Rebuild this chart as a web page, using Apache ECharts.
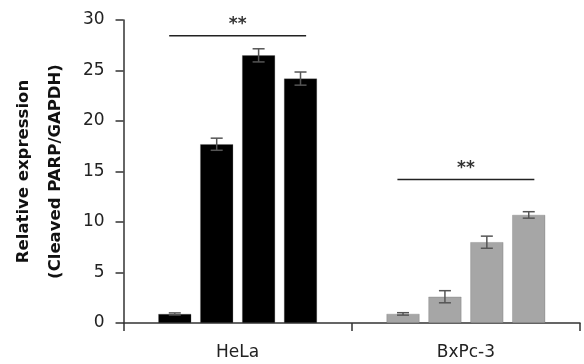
<!DOCTYPE html>
<html>
<head>
<meta charset="utf-8">
<script src="https://cdn.jsdelivr.net/npm/echarts@6/dist/echarts.min.js"></script>
<style>html,body{margin:0;padding:0;background:#fff}#c{width:584px;height:364px}</style>
</head>
<body>
<div id="c"></div>
<script>
const categories = ['HeLa', 'BxPc-3'];
const bar1 = [0.9, 0.9];
const bar2 = [17.7, 2.6];
const bar3 = [26.5, 8.0];
const bar4 = [24.2, 10.7];
const err1 = [0.1, 0.12];
const err2 = [0.6, 0.6];
const err3 = [0.65, 0.6];
const err4 = [0.65, 0.32];
const sigLineY = [28.45, 14.2];
const sigLabels = ['**', '**'];
const yTicks = [0, 5, 10, 15, 20, 25, 30];

const groupColors = ['#000000', '#a6a6a6'];
const BAR_W = 33, BAR_GAP = 0.27;
const means = [bar1, bar2, bar3, bar4];
const errs = [err1, err2, err3, err4];

const barSeries = means.map((vals, i) => ({
  type: 'bar',
  name: 'b' + (i + 1),
  data: vals,
  barWidth: BAR_W,
  barGap: (BAR_GAP * 100) + '%',
  itemStyle: { color: p => groupColors[p.dataIndex], borderColor: 'rgba(90,90,90,0.5)', borderWidth: 0.5 },
  silent: true,
  z: 2
}));

const errData = [];
means.forEach((vals, i) => vals.forEach((v, c) => errData.push([c, v, errs[i][c], i])));

const errSeries = {
  type: 'custom',
  data: errData,
  z: 5,
  silent: true,
  renderItem: (params, api) => {
    const c = api.value(0), v = api.value(1), e = api.value(2), bi = api.value(3);
    const off = (bi - 1.5) * BAR_W * (1 + BAR_GAP);
    const top = api.coord([c, v + e]);
    const bot = api.coord([c, v - e]);
    const x = top[0] + off;
    const hw = 6;
    const st = { stroke: '#555', lineWidth: 1.5 };
    return {
      type: 'group',
      children: [
        { type: 'line', shape: { x1: x, y1: top[1], x2: x, y2: bot[1] }, style: st },
        { type: 'line', shape: { x1: x - hw, y1: top[1], x2: x + hw, y2: top[1] }, style: st },
        { type: 'line', shape: { x1: x - hw, y1: bot[1], x2: x + hw, y2: bot[1] }, style: st }
      ]
    };
  }
};

const sigSeries = {
  type: 'custom',
  data: sigLineY.map((y, c) => [c, y, sigLabels[c]]),
  z: 5,
  silent: true,
  renderItem: (params, api) => {
    const c = api.value(0), y = api.value(1);
    const p = api.coord([c, y]);
    const hw = api.size([1, 0])[0] * 0.3;
    return {
      type: 'group',
      children: [
        { type: 'line', shape: { x1: p[0] - hw, y1: p[1], x2: p[0] + hw, y2: p[1] }, style: { stroke: '#222', lineWidth: 1.5 } },
        { type: 'text', x: p[0], y: p[1] - 3, style: { text: sigLabels[c], fill: '#333', font: 'bold 17px "DejaVu Sans"', textAlign: 'center', textVerticalAlign: 'bottom' } }
      ]
    };
  }
};

const chart = echarts.init(document.getElementById('c'), null, { renderer: 'canvas' });
chart.setOption({
  animation: false,
  backgroundColor: '#ffffff',
  grid: { left: 123, right: 4, top: 20, bottom: 41 },
  xAxis: {
    type: 'category',
    data: categories,
    axisLine: { lineStyle: { color: '#333', width: 1.5 } },
    axisTick: { show: true, length: 8, lineStyle: { color: '#333', width: 1.5 } },
    axisLabel: { color: '#222', fontFamily: 'DejaVu Sans', fontSize: 17, margin: 21 }
  },
  yAxis: {
    type: 'value',
    min: yTicks[0],
    max: yTicks[yTicks.length - 1],
    interval: yTicks[1] - yTicks[0],
    splitLine: { show: false },
    axisLine: { show: true, lineStyle: { color: '#333', width: 1.5 } },
    axisTick: { show: true, length: 8, lineStyle: { color: '#333', width: 1.5 } },
    axisLabel: { color: '#222', fontFamily: 'DejaVu Sans', fontSize: 17, margin: 19 },
    name: 'Relative expression\n(Cleaved PARP/GAPDH)',
    nameLocation: 'middle',
    nameRotate: 90,
    nameGap: 47,
    nameTextStyle: { color: '#111', fontFamily: 'DejaVu Sans', fontWeight: 'bold', fontSize: 16.5, lineHeight: 32 }
  },
  series: [...barSeries, errSeries, sigSeries]
});
</script>
</body>
</html>
